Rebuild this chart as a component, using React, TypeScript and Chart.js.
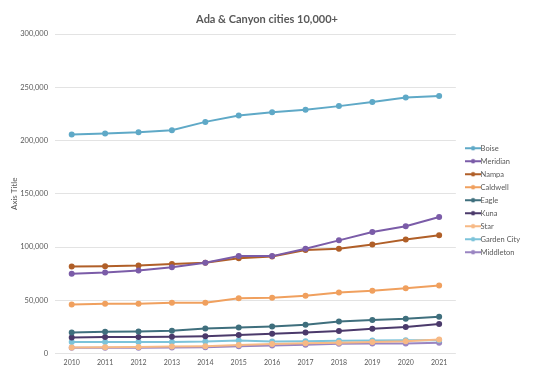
import React, { useEffect, useRef } from "react";
import { Chart, registerables } from "chart.js";

Chart.register(...registerables);

const years = ["2010", "2011", "2012", "2013", "2014", "2015", "2016", "2017", "2018", "2019", "2020", "2021"];

const boise = [205700, 206600, 207800, 209700, 217500, 223500, 226600, 228800, 232300, 236100, 240500, 241700];
const meridian = [74900, 76100, 78000, 81100, 85300, 91500, 91500, 98500, 106300, 114200, 119500, 128300];
const nampa = [81800, 82100, 82700, 84000, 85300, 89600, 91200, 97200, 98500, 102300, 107000, 111000];
const caldwell = [46200, 46900, 46900, 47800, 47800, 51900, 52500, 54200, 57300, 58900, 61300, 63900];
const eagle = [19800, 20500, 20800, 21400, 23600, 24500, 25500, 27100, 30200, 31500, 32700, 34600];
const kuna = [15100, 15500, 15500, 15800, 16400, 17400, 18600, 19800, 21100, 23300, 24900, 27700];
const star = [5800, 6000, 6300, 6600, 7000, 8000, 8900, 9800, 10300, 11000, 11700, 13200];
const gardenCity = [11000, 11000, 11000, 11000, 11300, 12300, 11300, 11700, 12000, 12300, 12600, 12600];
const middleton = [5400, 5400, 5400, 5700, 6000, 7000, 7500, 8200, 9200, 9400, 9400, 10100];

const seriesNames = ["Boise", "Meridian", "Nampa", "Caldwell", "Eagle", "Kuna", "Star", "Garden City", "Middleton"];
const seriesValues = [boise, meridian, nampa, caldwell, eagle, kuna, star, gardenCity, middleton];
const seriesColors = ["#5fa9c7", "#7b5ca8", "#b05f28", "#f0a05e", "#3f6f7d", "#4b3a6b", "#f7b985", "#7cc3da", "#9a85c2"];

const yTicks = [0, 50000, 100000, 150000, 200000, 250000, 300000];

function legendIcon(color: string): HTMLCanvasElement {
  const c = document.createElement("canvas");
  c.width = 16;
  c.height = 6;
  const ctx = c.getContext("2d")!;
  ctx.strokeStyle = color;
  ctx.lineWidth = 2;
  ctx.beginPath();
  ctx.moveTo(0, 3);
  ctx.lineTo(16, 3);
  ctx.stroke();
  ctx.fillStyle = color;
  ctx.beginPath();
  ctx.arc(8, 3, 2.2, 0, Math.PI * 2);
  ctx.fill();
  return c;
}

export default function App() {
  const ref = useRef<HTMLCanvasElement>(null);
  useEffect(() => {
    document.body.style.margin = "0";
    const chart = new Chart(ref.current!, {
      type: "line",
      data: {
        labels: years,
        datasets: seriesNames.map((name, i) => ({
          label: name,
          data: seriesValues[i],
          borderColor: seriesColors[i],
          backgroundColor: seriesColors[i],
          borderWidth: 2,
          pointRadius: 2,
          pointHoverRadius: 2,
          tension: 0,
          fill: false,
        })),
      },
      options: {
        animation: false,
        responsive: false,
        maintainAspectRatio: false,
        layout: { padding: { left: 4, right: 4, top: 6, bottom: 13 } },
        plugins: {
          title: {
            display: true,
            text: "Ada & Canyon cities 10,000+",
            color: "#595959",
            font: { family: "Lato", size: 11, weight: "bold" },
            padding: { top: 6.4, bottom: 8.4 },
          },
          legend: {
            position: "right",
            title: { display: true, text: " ", font: { size: 2 }, padding: { top: 13, bottom: 8 } },
            labels: {
              usePointStyle: true,
              color: "#595959",
              font: { family: "Lato", size: 7.5 },
              padding: 5.5,
              boxWidth: 16,
              generateLabels: (ch: any) =>
                ch.data.datasets.map((ds: any, i: number) => ({
                  text: ds.label,
                  fillStyle: ds.borderColor,
                  strokeStyle: ds.borderColor,
                  lineWidth: 0,
                  pointStyle: legendIcon(seriesColors[i]),
                  datasetIndex: i,
                  hidden: false,
                  fontColor: "#595959",
                })),
            },
          },
          tooltip: { enabled: false },
        },
        scales: {
          x: {
            offset: true,
            grid: { display: false, drawTicks: false, tickLength: 0 },
            border: { display: false },
            ticks: { color: "#595959", font: { family: "Lato", size: 7 }, padding: 4.5 },
          },
          y: {
            min: 0,
            max: 300000,
            afterBuildTicks: (axis: any) => {
              axis.ticks = yTicks.map((v) => ({ value: v }));
            },
            afterFit: (s: any) => {
              s.width = 51;
            },
            grid: { color: "#e3e3e3", lineWidth: 1, drawTicks: false },
            border: { display: false },
            title: {
              display: true,
              text: "Axis Title",
              color: "#595959",
              font: { family: "Lato", size: 8 },
              padding: { top: 6, bottom: 2 },
            },
            ticks: {
              color: "#595959",
              font: { family: "Lato", size: 7.5 },
              padding: 7,
              callback: (v: any) => Number(v).toLocaleString("en-US"),
            },
          },
          gap: {
            type: "linear",
            position: "right",
            display: true,
            grid: { display: false },
            border: { display: false },
            ticks: { display: false },
            afterFit: (s: any) => {
              s.width = 8;
            },
          },
        },
      },
    });
    return () => chart.destroy();
  }, []);
  return <canvas ref={ref} width={534} height={384} style={{ display: "block" }} />;
}
